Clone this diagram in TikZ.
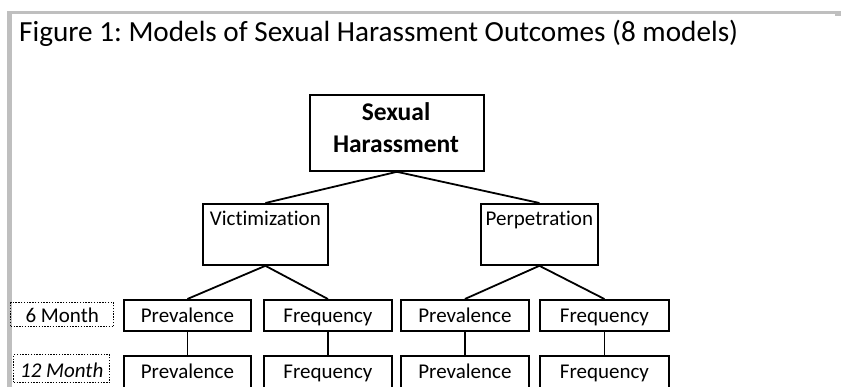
\documentclass[tikz,border=0pt]{standalone}
\usepackage{fontspec}
\setmainfont{Carlito}[Ligatures={NoCommon}]
\frenchspacing
\definecolor{framegray}{HTML}{BFBFBF}
\tikzset{
  textsize/.style={font=\fontsize{21}{25}\selectfont},
  treebox/.style={draw=black, line width=1.8pt, rectangle, inner xsep=0pt, inner ysep=0pt,
    anchor=north west, textsize},
  timebox/.style={draw=black, line width=1.4pt, dash pattern=on 1.4pt off 1.4pt, rectangle,
    inner xsep=0pt, inner ysep=0pt, anchor=north west, textsize},
  link/.style={draw=black, line width=1.8pt},
}
\begin{document}
\begin{tikzpicture}[x=1pt,y=-1pt]
  \useasboundingbox (0,0) rectangle (841,387);
  \clip (0,0) rectangle (841,387);
  \fill[white] (0,0) rectangle (841,387);

  % grey page frame
  \fill[framegray] (7,11) rectangle (841,14);
  \fill[framegray] (7,11) rectangle (12,387);
  \fill[framegray] (835,11) rectangle (841,16);

  % caption
  \node[anchor=base west, inner sep=0pt, font=\fontsize{29.2}{35}\selectfont] (title) at (19,42)
    {Figure 1: Models of Sexual Harassment Outcomes (8 models)};

  % top level
  \node[draw=black, line width=1.8pt, rectangle, inner sep=0pt, anchor=north west,
        minimum width=174pt, minimum height=76pt] (sh) at (309,94) {};
  \node[anchor=base, inner sep=0pt, font=\fontsize{25.5}{30}\selectfont\bfseries] (shA) at (396,121) {Sexual};
  \node[anchor=base, inner sep=0pt, font=\fontsize{25.5}{30}\selectfont\bfseries] (shB) at (396,153) {Harassment};

  % second level
  \node[treebox, minimum width=125pt, text height=22pt, text depth=39pt] (vic) at (202,203) {Victimization};
  \node[treebox, minimum width=117pt, text height=22pt, text depth=39pt] (per) at (480,203) {Perpetration};

  % six-month outcomes
  \node[treebox, minimum width=127pt, text height=23pt, text depth=8pt] (vp6) at (123,299) {Prevalence};
  \node[treebox, minimum width=128pt, text height=23pt, text depth=8pt] (vf6) at (263,299) {Frequency};
  \node[treebox, minimum width=128pt, text height=23pt, text depth=8pt] (pp6) at (400,299) {Prevalence};
  \node[treebox, minimum width=129pt, text height=23pt, text depth=8pt] (pf6) at (539,299) {Frequency};

  % twelve-month outcomes
  \node[treebox, minimum width=127pt, text height=23pt, text depth=17pt] (vp12) at (123,355) {Prevalence};
  \node[treebox, minimum width=128pt, text height=23pt, text depth=17pt] (vf12) at (263,355) {Frequency};
  \node[treebox, minimum width=128pt, text height=23pt, text depth=17pt] (pp12) at (400,355) {Prevalence};
  \node[treebox, minimum width=129pt, text height=23pt, text depth=17pt] (pf12) at (539,355) {Frequency};

  % time-point labels
  \node[timebox, minimum width=103pt, text height=20pt, text depth=4pt] (m6) at (10,302) {6 Month};
  \node[timebox, minimum width=96pt, text height=23pt, text depth=5pt] (m12) at (13,354) {\itshape 12 Month};

  % connectors
  \draw[link] (sh.south) -- (vic.north);
  \draw[link] (sh.south) -- (per.north);
  \draw[link] (vic.south) -- (vp6.north);
  \draw[link] (vic.south) -- (vf6.north);
  \draw[link] (per.south) -- (pp6.north);
  \draw[link] (per.south) -- (pf6.north);
  \draw[link] (vp6.south) -- (vp12.north);
  \draw[link] (vf6.south) -- (vf12.north);
  \draw[link] (pp6.south) -- (pp12.north);
  \draw[link] (pf6.south) -- (pf12.north);
\end{tikzpicture}
\end{document}
